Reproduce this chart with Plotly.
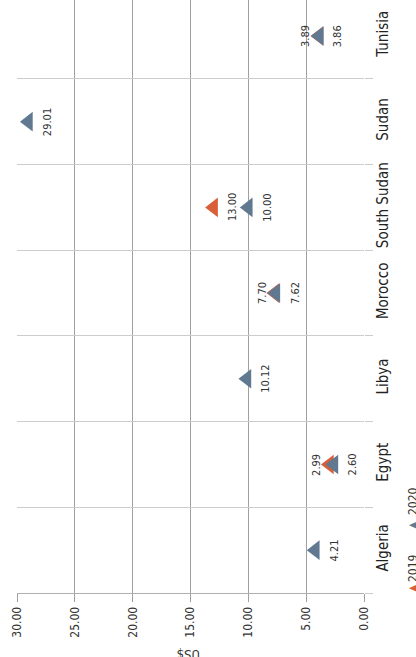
import plotly.graph_objects as go

# ---- data ----
categories = ["Algeria", "Egypt", "Libya", "Morocco", "South Sudan", "Sudan", "Tunisia"]
values_2019 = [None, 2.99, None, 7.70, 13.00, None, 3.89]
values_2020 = [4.21, 2.60, 10.12, 7.62, 10.00, 29.01, 3.86]
label_side_2019 = [None, "left", None, "left", "right", None, "left"]
label_side_2020 = ["right", "right", "right", "right", "right", "right", "right"]
series_names = ["2019", "2020"]
value_ticks = [0, 5, 10, 15, 20, 25, 30]
axis_title = "US$"

# ---- style ----
W, H = 416, 657
ML, MR, MT, MB = 17, 52, 0, 64
PW, PH = W - ML - MR, H - MT - MB
FONT = "Liberation Sans Narrow, Arial Narrow, DejaVu Sans Condensed, sans-serif"
TXT = "#333333"
colors = ["#D95F3B", "#607890"]


def px_to_paper(px, py):
    return (px - ML) / PW, (H - MB - py) / PH


fig = go.Figure()
annotations = []
for name, vals, sides, col in zip(series_names, [values_2019, values_2020],
                                  [label_side_2019, label_side_2020], colors):
    fig.add_trace(go.Scatter(
        x=vals, y=categories, mode="markers", name=name,
        marker=dict(symbol="triangle-left", size=17, color=col, line=dict(width=0)),
        cliponaxis=False, showlegend=False, hoverinfo="x+y+name"))
    for v, c, s in zip(vals, categories, sides):
        if v is None:
            continue
        annotations.append(dict(
            x=v, y=c, xref="x", yref="y", text=f"{v:.2f}", textangle=-90,
            xanchor="center", yanchor="middle",
            showarrow=False, xshift=19 if s == "right" else -13,
            font=dict(family=FONT, size=11, color=TXT)))

# legend (rotated, built from annotations)
leg_items = [(series_names[0], colors[0], 588, 568), (series_names[1], colors[1], 525, 501)]
for name, col, tri_y, txt_y in leg_items:
    tx, ty = px_to_paper(412, tri_y)
    annotations.append(dict(x=tx, y=ty, xref="paper", yref="paper", text="▲",
                            xanchor="center", yanchor="middle",
                            textangle=-90, showarrow=False,
                            font=dict(family=FONT, size=11, color=col)))
    lx, ly = px_to_paper(413, txt_y)
    annotations.append(dict(x=lx, y=ly, xref="paper", yref="paper", text=name,
                            xanchor="center", yanchor="middle",
                            textangle=-90, showarrow=False,
                            font=dict(family=FONT, size=12, color=TXT)))

# axis title (upside down)
tx, ty = px_to_paper(189, 655)
annotations.append(dict(x=tx, y=ty, xref="paper", yref="paper", text=axis_title,
                        xanchor="center", yanchor="middle",
                        textangle=180, showarrow=False,
                        font=dict(family=FONT, size=13, color=TXT)))

fig.update_layout(
    width=W, height=H,
    margin=dict(l=ML, r=MR, t=MT, b=MB, pad=0),
    paper_bgcolor="white", plot_bgcolor="white",
    showlegend=False,
    annotations=annotations,
    font=dict(family=FONT, color=TXT),
    xaxis=dict(
        range=[30, 0], tickvals=value_ticks, tickformat=".2f", tickangle=-90,
        ticks="outside", ticklen=8, tickcolor="#a0a0a0", tickwidth=1,
        showgrid=True, gridcolor="#a0a0a0", gridwidth=1,
        zeroline=False, showline=True, linecolor="#b0b0b0", linewidth=1,
        tickfont=dict(family=FONT, size=12, color=TXT), fixedrange=True),
    yaxis=dict(
        type="category", categoryorder="array", categoryarray=categories,
        range=[-0.5, 6.42], side="right", tickangle=-90, tickson="boundaries",
        ticks="outside", ticklen=8, tickcolor="#cccccc", tickwidth=1,
        ticklabelstandoff=8,
        showgrid=True, gridcolor="#cccccc", gridwidth=1,
        zeroline=False, showline=False,
        tickfont=dict(family=FONT, size=15, color="#222222"), fixedrange=True),
)

fig.write_html("out.html", config={"displayModeBar": False},
               post_script="document.body.style.margin='0';")
